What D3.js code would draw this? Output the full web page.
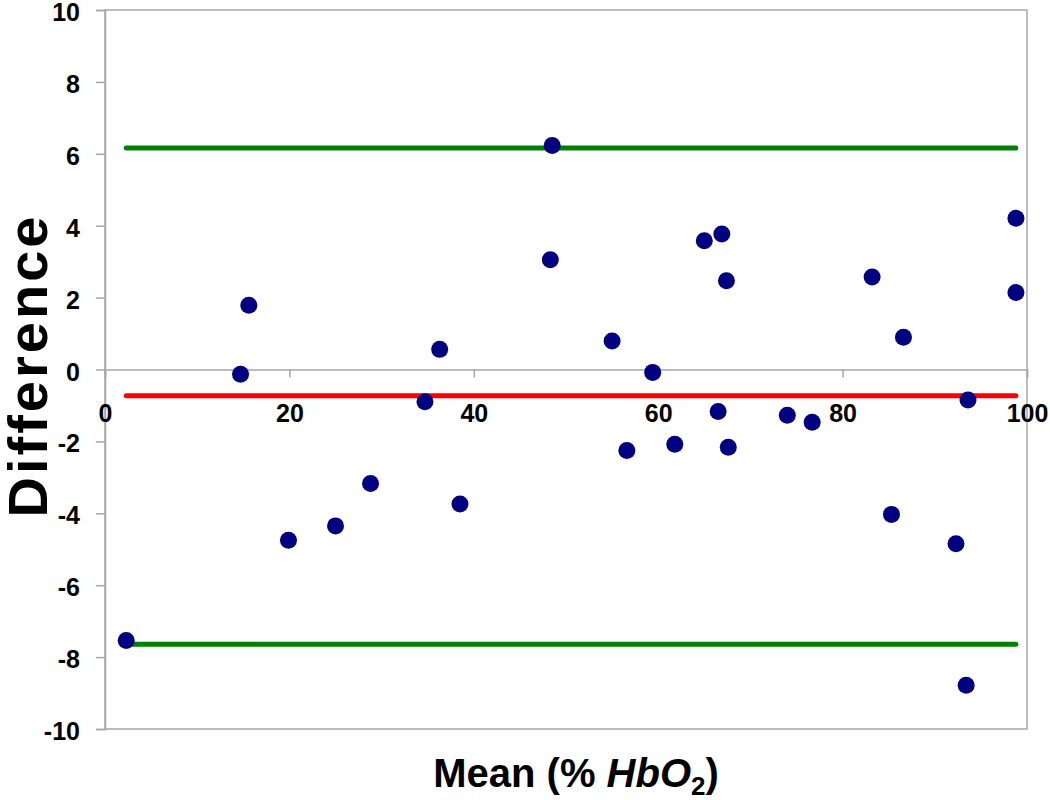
<!DOCTYPE html>
<html>
<head>
<meta charset="utf-8">
<script src="https://cdn.jsdelivr.net/npm/d3@7"></script>
<style>
  body { margin: 0; background: #fff; }
  svg text { font-family: Arial, "Liberation Sans", Helvetica, sans-serif; font-weight: bold; }
</style>
</head>
<body>
<div id="chart"></div>
<script>
// mean of the two methods (% HbO2) and their difference
const meanVals = [2.3, 14.7, 15.6, 19.9, 25.0, 28.8, 34.7, 36.3, 38.5, 48.5,
                  48.3, 55.0, 56.6, 59.4, 61.8, 65.0, 66.5, 66.9, 67.4, 67.6,
                  74.0, 76.7, 83.2, 86.6, 85.3, 92.3, 93.6, 93.4, 98.8, 98.8];
const diffVals = [-7.54, -0.13, 1.79, -4.75, -4.35, -3.17, -0.90, 0.56, -3.74, 6.23,
                  3.05, 0.79, -2.25, -0.08, -2.08, 3.58, -1.17, 3.77, 2.47, -2.16,
                  -1.27, -1.47, 2.57, 0.90, -4.03, -4.85, -0.85, -8.78, 4.21, 2.14];

const bias = -0.73;
const upperLoA = 6.16;
const lowerLoA = -7.64;

const xTicks = [0, 20, 40, 60, 80, 100];
const yTicks = [-10, -8, -6, -4, -2, 0, 2, 4, 6, 8, 10];

const width = 1050, height = 800;
const margin = { top: 10, right: 23, bottom: 71, left: 105 };

const svg = d3.select("#chart").append("svg")
    .attr("width", width)
    .attr("height", height);

const x = d3.scaleLinear().domain([0, 100]).range([margin.left, width - margin.right]);
const y = d3.scaleLinear().domain([-10, 10]).range([height - margin.bottom, margin.top]);

const axisColor = "#a6a6a6";

// plot frame
svg.append("rect")
    .attr("x", x(0)).attr("y", y(10))
    .attr("width", x(100) - x(0)).attr("height", y(-10) - y(10))
    .attr("fill", "none").attr("stroke", axisColor).attr("stroke-width", 1.5);

// y axis
const yAxis = svg.append("g")
    .attr("transform", `translate(${x(0)},0)`)
    .call(d3.axisLeft(y).tickValues(yTicks).tickSize(9).tickPadding(16).tickFormat(d => String(d)));
yAxis.select(".domain").attr("stroke", axisColor).attr("stroke-width", 1.5);
yAxis.selectAll(".tick line").attr("stroke", axisColor).attr("stroke-width", 1.5);
yAxis.selectAll(".tick text").attr("font-size", 25).attr("dy", "0.42em").attr("fill", "#000");

// x axis through zero
const xAxis = svg.append("g")
    .attr("transform", `translate(0,${y(0)})`)
    .call(d3.axisBottom(x).tickValues(xTicks).tickSize(8).tickPadding(27).tickFormat(d => String(d)));
xAxis.select(".domain").attr("stroke", axisColor).attr("stroke-width", 1.5);
xAxis.selectAll(".tick line").attr("stroke", axisColor).attr("stroke-width", 1.5);
xAxis.selectAll(".tick text").attr("font-size", 25).attr("fill", "#000");

// bias and limits of agreement
const xMin = d3.min(meanVals), xMax = d3.max(meanVals);
const refLines = [
  { v: upperLoA, c: "#008000" },
  { v: bias, c: "#ff0000" },
  { v: lowerLoA, c: "#008000" }
];
svg.selectAll(".ref")
    .data(refLines)
    .enter().append("line")
    .attr("class", "ref")
    .attr("x1", x(xMin)).attr("x2", x(xMax))
    .attr("y1", d => y(d.v)).attr("y2", d => y(d.v))
    .attr("stroke", d => d.c)
    .attr("stroke-width", 5)
    .attr("stroke-linecap", "round");

// points
svg.selectAll(".dot")
    .data(meanVals.map((m, i) => ({ m: m, d: diffVals[i] })))
    .enter().append("circle")
    .attr("class", "dot")
    .attr("cx", d => x(d.m))
    .attr("cy", d => y(d.d))
    .attr("r", 8.5)
    .attr("fill", "#000080");

// axis titles
svg.append("text")
    .attr("transform", `translate(47,${y(0) - 4}) rotate(-90)`)
    .attr("text-anchor", "middle")
    .attr("font-size", 56)
    .attr("letter-spacing", 3)
    .text("Difference");

const xt = svg.append("text")
    .attr("x", 576)
    .attr("y", 787)
    .attr("text-anchor", "middle")
    .attr("font-size", 40);
xt.append("tspan").text("Mean (% ");
xt.append("tspan").attr("font-style", "italic").text("HbO");
xt.append("tspan").attr("font-size", 26).attr("dy", 8).text("2");
xt.append("tspan").attr("dy", -8).text(")");
</script>
</body>
</html>
